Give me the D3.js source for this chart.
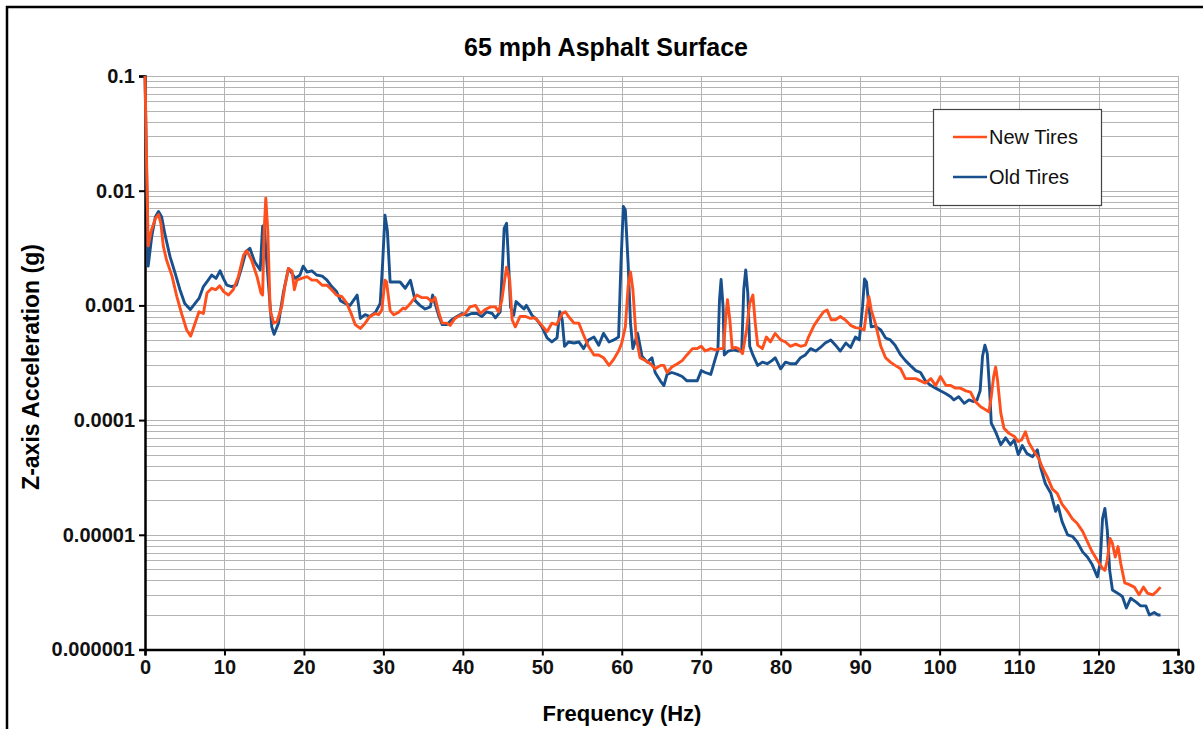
<!DOCTYPE html>
<meta charset="utf-8">
<style>
  body { margin: 0; background: #fff; }
  text { font-family: "Liberation Sans", Arial, sans-serif; }
</style>
<body>
<div id="chart"></div>
<script src="https://d3js.org/d3.v7.min.js"></script>
<script>
// ---- data: [frequency (Hz), acceleration (g)] ----
const newTires = [
  [0,0.1],[0.4,0.0033],[0.8,0.0045],[1.3,0.0057],[1.7,0.0062],[2.0,0.0052],[2.3,0.0033],[2.7,0.0025],
  [3.4,0.0018],[4.0,0.0012],[4.6,0.00085],[5.25,0.00061],[5.75,0.00054],[6.3,0.0007],[6.8,0.00088],
  [7.35,0.00085],[7.8,0.00128],[8.4,0.00141],[8.9,0.00137],[9.4,0.00148],[9.9,0.00132],[10.5,0.00123],
  [11.1,0.00137],[11.75,0.00178],[12.4,0.00275],[12.8,0.003],[13.4,0.0025],[14.1,0.00178],[14.6,0.00128],
  [14.8,0.00123],[15.0,0.0045],[15.2,0.0086],[15.45,0.0045],[15.75,0.00091],[16.2,0.0007],[16.6,0.00072],
  [17.2,0.00097],[17.6,0.00146],[18.05,0.0021],[18.5,0.002],[18.8,0.00137],[19.1,0.00166],[19.7,0.00172],
  [20.4,0.00178],[21.0,0.00166],[21.6,0.00166],[22.3,0.0015],[22.9,0.0015],[23.5,0.00137],[24.1,0.00123],
  [24.8,0.00119],[25.4,0.00104],[26.0,0.00083],[26.45,0.00068],[27.1,0.00063],[27.7,0.0007],[28.3,0.0008],
  [29.0,0.00085],[29.4,0.00083],[29.8,0.00091],[30.2,0.00166],[30.4,0.0016],[30.85,0.0009],[31.3,0.00083],
  [31.9,0.00087],[32.5,0.00095],[32.75,0.00093],[33.4,0.00104],[34.2,0.00123],[34.8,0.00117],[35.5,0.00117],
  [36.1,0.00108],[36.5,0.00117],[37.0,0.00085],[37.4,0.0007],[38.0,0.0007],[38.4,0.00067],[39.0,0.00077],
  [39.7,0.00082],[40.3,0.00085],[40.9,0.00097],[41.6,0.001],[42.2,0.00085],[42.8,0.00092],[43.5,0.00097],
  [44.1,0.00097],[44.5,0.00088],[44.9,0.0011],[45.2,0.00156],[45.5,0.00215],[45.9,0.00166],[46.2,0.00075],
  [46.6,0.00065],[47.2,0.0008],[47.9,0.0008],[48.5,0.00077],[49.1,0.00078],[49.7,0.0007],[50.6,0.00059],
  [51.2,0.0007],[51.8,0.00068],[52.5,0.00085],[52.9,0.00088],[53.3,0.0008],[54.0,0.0007],[54.6,0.0007],
  [55.2,0.00055],[55.8,0.00044],[56.5,0.00037],[57.1,0.00037],[57.7,0.00035],[58.4,0.0003],[59.0,0.00034],
  [59.6,0.0004],[60.0,0.00047],[60.45,0.00065],[60.8,0.00146],[61.1,0.00196],[61.4,0.00137],[61.8,0.00053],
  [62.3,0.00035],[63.0,0.00033],[63.6,0.00031],[64.2,0.00028],[64.9,0.0003],[65.3,0.0003],[65.7,0.00026],
  [66.3,0.00029],[67.0,0.00031],[67.6,0.00033],[68.2,0.00037],[68.9,0.00042],[69.5,0.00042],[70.0,0.00044],
  [70.5,0.0004],[71.2,0.00042],[71.8,0.00041],[72.4,0.00042],[72.8,0.00042],[73.1,0.0008],[73.3,0.00112],
  [73.6,0.00075],[73.9,0.00042],[74.3,0.00043],[74.7,0.00042],[75.2,0.00038],[75.7,0.00061],[76.1,0.00104],
  [76.5,0.00123],[76.8,0.0007],[77.1,0.00045],[77.7,0.00042],[78.2,0.00053],[78.7,0.00048],[79.3,0.00057],
  [80.0,0.0005],[80.6,0.00048],[81.2,0.00044],[81.9,0.00046],[82.5,0.00044],[83.1,0.00045],[83.5,0.00053],
  [84.2,0.00067],[84.8,0.00077],[85.4,0.00088],[85.85,0.00091],[86.35,0.00075],[86.9,0.00075],[87.5,0.0008],
  [88.2,0.00074],[88.8,0.00067],[89.4,0.00064],[90.05,0.00063],[90.5,0.00061],[90.8,0.00088],[91.1,0.00119],
  [91.4,0.00091],[91.9,0.0007],[92.6,0.00044],[93.2,0.00035],[93.8,0.00032],[94.4,0.0003],[95.1,0.00028],
  [95.7,0.00023],[96.3,0.00023],[97.0,0.00023],[97.6,0.00022],[98.2,0.00021],[98.9,0.00023],[99.5,0.0002],
  [100.1,0.00024],[100.8,0.0002],[101.4,0.0002],[102.0,0.00019],[102.6,0.00019],[103.3,0.00018],
  [103.9,0.000175],[104.5,0.000145],[105.2,0.00013],[105.8,0.000123],[106.2,0.000118],[106.5,0.00016],
  [106.8,0.00024],[107.05,0.00029],[107.3,0.00022],[107.7,0.000115],[108.1,0.000085],[108.7,0.000077],
  [109.4,0.000072],[109.9,0.000065],[110.3,0.000067],[110.8,0.000079],[111.25,0.000063],[111.9,0.000053],
  [112.5,0.000046],[112.9,0.000039],[113.55,0.000032],[114.2,0.000025],[114.8,0.000023],[115.4,0.0000185],
  [116.1,0.000016],[116.7,0.0000138],[117.3,0.0000126],[118.0,0.0000107],[118.6,0.0000087],[119.2,0.0000071],
  [119.85,0.000006],[120.5,0.0000051],[120.8,0.0000049],[121.1,0.000006],[121.45,0.0000093],[121.75,0.0000084],
  [122.1,0.0000064],[122.45,0.0000079],[122.8,0.0000056],[123.3,0.0000038],[123.8,0.0000037],[124.5,0.0000035],
  [125.1,0.000003],[125.65,0.0000035],[126.15,0.0000031],[126.8,0.000003],[127.3,0.0000032],[127.8,0.0000035]
];

const oldTires = [
  [0,0.1],[0.4,0.0022],[0.85,0.004],[1.3,0.0059],[1.7,0.0066],[2.1,0.0059],[2.5,0.0042],[3.15,0.00266],
  [3.8,0.0019],[4.4,0.00137],[5.0,0.00104],[5.7,0.00092],[6.3,0.00104],[6.8,0.00115],[7.35,0.00146],
  [7.95,0.00166],[8.4,0.00184],[8.94,0.00172],[9.45,0.002],[9.86,0.00172],[10.3,0.0015],[10.9,0.00146],
  [11.5,0.0015],[12.2,0.00218],[12.7,0.00294],[13.2,0.00315],[13.8,0.0024],[14.5,0.00204],[14.8,0.0049],
  [15.0,0.005],[15.3,0.0025],[15.95,0.00065],[16.25,0.00056],[16.8,0.0007],[17.4,0.00128],[18.05,0.0021],
  [18.5,0.0019],[18.9,0.00172],[19.5,0.00184],[19.9,0.0022],[20.4,0.00195],[21.0,0.002],[21.6,0.00184],
  [22.3,0.0018],[22.9,0.00166],[23.5,0.00146],[24.1,0.00132],[24.6,0.0011],[25.2,0.00104],[25.8,0.001],
  [26.7,0.00123],[27.1,0.00077],[27.7,0.00083],[28.3,0.0008],[29.0,0.00087],[29.6,0.00104],[29.9,0.0023],
  [30.2,0.0061],[30.5,0.0045],[30.85,0.0016],[31.5,0.0016],[32.1,0.0016],[32.75,0.00141],[33.4,0.00166],
  [34.0,0.0011],[34.6,0.001],[35.25,0.00093],[35.9,0.00097],[36.2,0.00123],[36.5,0.00104],[37.0,0.0008],
  [37.4,0.00068],[38.0,0.00068],[38.6,0.00075],[39.25,0.0008],[39.9,0.00085],[40.5,0.00082],[41.1,0.00085],
  [41.8,0.00085],[42.4,0.0008],[43.0,0.00088],[43.7,0.00085],[44.1,0.00078],[44.7,0.00088],[45.0,0.00233],
  [45.2,0.0047],[45.5,0.0052],[45.7,0.00284],[46.0,0.00097],[46.4,0.00082],[46.7,0.00108],[47.2,0.001],
  [47.7,0.00093],[48.0,0.001],[48.7,0.00082],[49.3,0.00075],[49.95,0.00065],[50.6,0.00052],[51.2,0.00048],
  [51.85,0.00052],[52.2,0.00088],[52.5,0.00075],[52.8,0.00044],[53.3,0.00048],[54.0,0.00047],[54.6,0.00048],
  [55.2,0.00042],[55.8,0.0005],[56.5,0.00053],[57.1,0.00045],[57.7,0.00057],[58.4,0.00048],[59.0,0.0005],
  [59.6,0.00053],[59.9,0.00233],[60.2,0.0073],[60.45,0.0068],[60.8,0.0023],[61.1,0.0007],[61.4,0.00042],
  [62.0,0.00057],[62.55,0.00036],[63.2,0.00032],[63.8,0.00035],[64.2,0.00026],[64.85,0.00022],[65.3,0.0002],
  [65.7,0.00025],[66.3,0.00026],[67.0,0.00025],[67.6,0.00024],[68.2,0.00022],[68.9,0.00022],[69.5,0.00022],
  [70.0,0.00027],[70.5,0.00026],[71.2,0.00025],[71.7,0.00033],[72.1,0.00041],[72.3,0.00112],[72.5,0.00168],
  [72.75,0.00097],[72.9,0.00037],[73.4,0.0004],[74.1,0.00041],[74.7,0.0004],[75.1,0.00041],[75.35,0.00137],
  [75.6,0.00204],[75.86,0.00128],[76.1,0.00044],[76.5,0.00037],[77.1,0.0003],[77.7,0.00032],[78.3,0.00031],
  [78.9,0.00033],[79.3,0.00035],[80.0,0.00028],[80.6,0.00032],[81.2,0.00031],[81.9,0.00031],[82.5,0.00035],
  [83.1,0.00037],[83.76,0.00042],[84.4,0.0004],[85.0,0.00043],[85.6,0.00047],[86.3,0.0005],[86.9,0.00045],
  [87.5,0.0004],[88.2,0.00047],[88.8,0.00043],[89.4,0.00053],[89.9,0.0005],[90.3,0.00097],[90.55,0.0017],
  [90.8,0.0016],[91.1,0.00097],[91.4,0.00065],[91.9,0.00066],[92.6,0.00061],[93.2,0.00052],[93.8,0.0005],
  [94.4,0.00045],[95.1,0.00037],[95.7,0.00033],[96.3,0.0003],[97.0,0.00027],[97.6,0.00026],[98.2,0.00022],
  [98.9,0.0002],[99.5,0.00019],[100.1,0.00018],[100.8,0.00017],[101.4,0.00016],[101.8,0.00015],[102.4,0.00016],
  [103.1,0.00014],[103.7,0.00015],[104.3,0.000145],[104.7,0.00015],[105.1,0.00018],[105.4,0.00036],
  [105.7,0.00045],[106.0,0.00038],[106.3,0.00018],[106.5,0.000094],[107.05,0.000079],[107.7,0.000061],
  [108.3,0.00007],[108.9,0.000061],[109.4,0.000067],[109.9,0.00005],[110.4,0.00006],[111.0,0.000051],
  [111.7,0.000048],[112.3,0.000055],[112.7,0.000039],[113.3,0.000028],[114.0,0.000023],[114.6,0.000016],
  [114.9,0.000018],[115.4,0.0000131],[116.1,0.00001],[116.7,0.0000097],[117.3,0.0000087],[118.0,0.0000071],
  [118.6,0.0000064],[119.2,0.0000055],[119.85,0.0000043],[120.2,0.0000056],[120.5,0.0000138],[120.8,0.000017],
  [121.1,0.000011],[121.4,0.0000049],[121.75,0.0000033],[122.4,0.0000031],[123.0,0.0000029],[123.5,0.0000023],
  [124.05,0.0000028],[124.7,0.0000026],[125.3,0.0000024],[125.95,0.0000024],[126.4,0.000002],[127.0,0.0000021],
  [127.5,0.000002],[127.8,0.000002]
];

const xTicks = [0, 10, 20, 30, 40, 50, 60, 70, 80, 90, 100, 110, 120, 130];
const yTicks = [0.1, 0.01, 0.001, 0.0001, 0.00001, 0.000001];
const yTickLabels = ["0.1", "0.01", "0.001", "0.0001", "0.00001", "0.000001"];
const seriesNames = ["New Tires", "Old Tires"];
const seriesColors = ["#ff4f1c", "#17508c"];

// ---- layout ----
const W = 1203, H = 729;
const plotL = 145, plotR = 1178, plotT = 76, plotB = 649.5;

const svg = d3.select("#chart").append("svg")
    .attr("width", W)
    .attr("height", H);

// outer frame (runs off the right/bottom edge as in the scan)
svg.append("rect")
    .attr("x", 7).attr("y", 7)
    .attr("width", W + 20).attr("height", H + 20)
    .attr("fill", "none")
    .attr("stroke", "#000")
    .attr("stroke-width", 2.5);

const x = d3.scaleLinear().domain([0, 130]).range([plotL, plotR]);
const y = d3.scaleLog().domain([1e-6, 0.1]).range([plotB, plotT]);

// grid: minor log lines (1..9 per decade)
const minor = [];
for (let e = -6; e < -1; e++) {
  for (let k = 1; k <= 9; k++) minor.push(k * Math.pow(10, e));
}
minor.push(0.1);

svg.append("g")
  .selectAll("line")
  .data(minor)
  .join("line")
    .attr("x1", plotL).attr("x2", plotR)
    .attr("y1", d => Math.round(y(d)) + 0.5)
    .attr("y2", d => Math.round(y(d)) + 0.5)
    .attr("stroke", "#b4b4b4")
    .attr("stroke-width", 1);

svg.append("g")
  .selectAll("line")
  .data(xTicks.slice(1))
  .join("line")
    .attr("x1", d => Math.round(x(d)) + 0.5)
    .attr("x2", d => Math.round(x(d)) + 0.5)
    .attr("y1", plotT).attr("y2", plotB)
    .attr("stroke", "#b4b4b4")
    .attr("stroke-width", 1);

// axes
const xAxis = svg.append("g")
    .attr("transform", `translate(0,${plotB})`)
    .call(d3.axisBottom(x).tickValues(xTicks).tickSize(6).tickPadding(4).tickFormat(d3.format("d")));
xAxis.select(".domain").attr("stroke-width", 2.5);
xAxis.selectAll(".tick line").attr("stroke-width", 2);
xAxis.selectAll(".tick text")
    .attr("font-size", 20).attr("font-weight", "bold").attr("fill", "#111")
    .attr("font-family", "Liberation Sans, Arial, sans-serif");

const yAxis = svg.append("g")
    .attr("transform", `translate(${plotL},0)`)
    .call(d3.axisLeft(y).tickValues(yTicks).tickSize(6).tickPadding(4)
      .tickFormat((d, i) => yTickLabels[i]));
yAxis.select(".domain").attr("stroke-width", 2.5);
yAxis.selectAll(".tick line").attr("stroke-width", 2);
yAxis.selectAll(".tick text")
    .attr("font-size", 20).attr("font-weight", "bold").attr("fill", "#111")
    .attr("font-family", "Liberation Sans, Arial, sans-serif");

// series
const line = d3.line()
    .x(d => x(d[0]))
    .y(d => y(d[1]));

svg.append("path")
    .datum(oldTires)
    .attr("fill", "none")
    .attr("stroke", seriesColors[1])
    .attr("stroke-width", 2.9)
    .attr("stroke-linejoin", "round")
    .attr("d", line);

svg.append("path")
    .datum(newTires)
    .attr("fill", "none")
    .attr("stroke", seriesColors[0])
    .attr("stroke-width", 2.9)
    .attr("stroke-linejoin", "round")
    .attr("d", line);

// titles
svg.append("text")
    .attr("x", 606).attr("y", 56)
    .attr("text-anchor", "middle")
    .attr("font-size", 25).attr("font-weight", "bold")
    .text("65 mph Asphalt Surface");

svg.append("text")
    .attr("x", 622).attr("y", 721)
    .attr("text-anchor", "middle")
    .attr("font-size", 22).attr("font-weight", "bold")
    .text("Frequency (Hz)");

svg.append("text")
    .attr("transform", "translate(39,367) rotate(-90)")
    .attr("text-anchor", "middle")
    .attr("font-size", 23).attr("font-weight", "bold")
    .text("Z-axis Acceleration (g)");

// legend
const lg = svg.append("g");
lg.append("rect")
    .attr("x", 933.5).attr("y", 109.5)
    .attr("width", 168).attr("height", 96)
    .attr("fill", "#fff")
    .attr("stroke", "#444")
    .attr("stroke-width", 1.2);

seriesNames.forEach((name, i) => {
  const cy = 137 + i * 40;
  lg.append("line")
      .attr("x1", 953).attr("x2", 987)
      .attr("y1", cy).attr("y2", cy)
      .attr("stroke", seriesColors[i])
      .attr("stroke-width", 2.6);
  lg.append("text")
      .attr("x", 989).attr("y", cy + 7)
      .attr("font-size", 20)
      .attr("fill", "#111")
      .text(name);
});
</script>
</body>
